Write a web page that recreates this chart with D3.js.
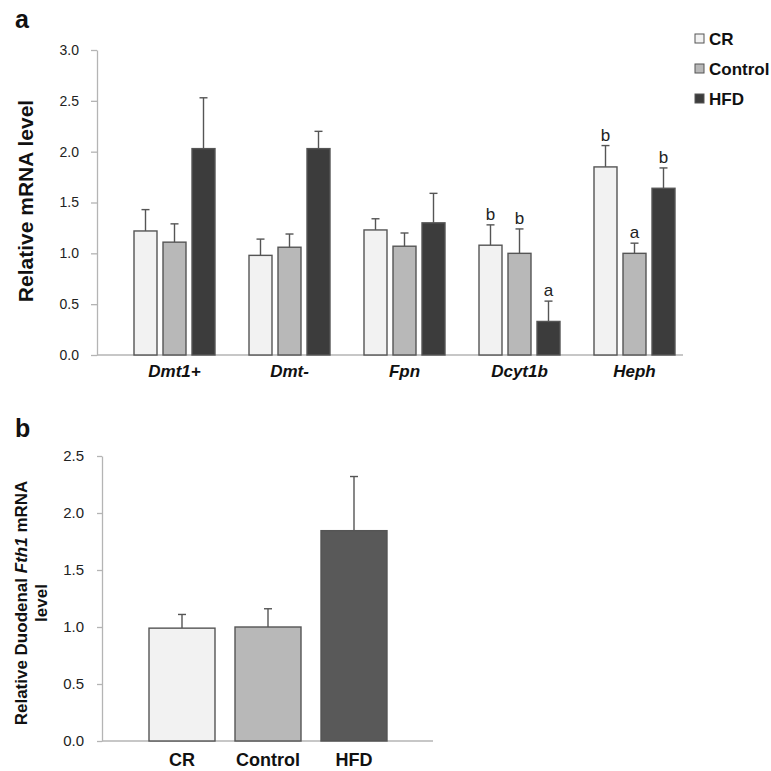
<!DOCTYPE html>
<html>

<head>
    <title>mRNA levels</title>
</head>
<style>
    body { margin: 0; background: #fff; }
    text { font-family: "Liberation Sans", Arial, sans-serif; }
</style>

<body>
    <script src="https://d3js.org/d3.v7.min.js"></script>
    <svg width="771" height="771" id="mainsvg"></svg>
    <script>
        // panel a data
        const genes = ['Dmt1+', 'Dmt-', 'Fpn', 'Dcyt1b', 'Heph'];
        const groups = ['CR', 'Control', 'HFD'];
        const crMean = [1.22, 0.98, 1.23, 1.08, 1.85];
        const crErr = [0.21, 0.16, 0.11, 0.20, 0.21];
        const ctrlMean = [1.11, 1.06, 1.07, 1.00, 1.00];
        const ctrlErr = [0.18, 0.13, 0.13, 0.24, 0.10];
        const hfdMean = [2.03, 2.03, 1.30, 0.33, 1.64];
        const hfdErr = [0.50, 0.17, 0.29, 0.20, 0.20];
        const crLetters = ['', '', '', 'b', 'b'];
        const ctrlLetters = ['', '', '', 'b', 'a'];
        const hfdLetters = ['', '', '', 'a', 'b'];
        const yTicksA = [0, 0.5, 1.0, 1.5, 2.0, 2.5, 3.0];

        // panel b data
        const fthMean = [0.99, 1.00, 1.845];
        const fthErr = [0.12, 0.16, 0.475];
        const yTicksB = [0, 0.5, 1.0, 1.5, 2.0, 2.5];

        const colorsA = { 'CR': '#f2f2f2', 'Control': '#b8b8b8', 'HFD': '#3c3c3c' };
        const colorsB = { 'CR': '#f2f2f2', 'Control': '#b8b8b8', 'HFD': '#595959' };
        const strokeCol = '#555555';

        const svg = d3.select('#mainsvg');

        // ---------- panel a ----------
        const dataA = [];
        genes.forEach((g, i) => {
            dataA.push({ gene: g, group: 'CR', mean: crMean[i], err: crErr[i], letter: crLetters[i] });
            dataA.push({ gene: g, group: 'Control', mean: ctrlMean[i], err: ctrlErr[i], letter: ctrlLetters[i] });
            dataA.push({ gene: g, group: 'HFD', mean: hfdMean[i], err: hfdErr[i], letter: hfdLetters[i] });
        });

        const x0 = d3.scaleBand().domain(genes).range([117, 692]).paddingInner(0);
        const x1 = d3.scaleBand().domain(groups).range([0, 81]).paddingInner(0.207);
        const offA = (x0.bandwidth() - 81) / 2;
        const yA = d3.scaleLinear().domain([0, 3]).range([355, 50]);

        const gA = svg.append('g').attr('id', 'panelA');

        const yAxisA = d3.axisLeft(yA).tickValues(yTicksA).tickFormat(d3.format('.1f'))
            .tickSize(6).tickSizeOuter(0).tickPadding(12);
        gA.append('g').attr('transform', 'translate(97,0)').call(yAxisA)
            .call(g => g.selectAll('path, line').attr('stroke', '#b4b4b4').attr('stroke-width', 1.3))
            .call(g => g.selectAll('text').attr('font-family', '"Open Sans", sans-serif')
                .attr('font-size', '14px').attr('fill', '#222'));

        gA.append('line').attr('x1', 97).attr('x2', 683).attr('y1', yA(0)).attr('y2', yA(0))
            .attr('stroke', '#b4b4b4').attr('stroke-width', 1.3);

        const xAxisA = d3.axisBottom(x0).tickSize(0).tickPadding(10);
        gA.append('g').attr('transform', `translate(0,${yA(0)})`).call(xAxisA)
            .call(g => g.select('.domain').remove())
            .call(g => g.selectAll('text').attr('font-family', '"Liberation Sans", Arial, sans-serif')
                .attr('font-size', '17px').attr('font-weight', 'bold').attr('font-style', 'italic')
                .attr('fill', '#111'));

        const barX = d => x0(d.gene) + offA + x1(d.group);

        gA.selectAll('.errA').data(dataA).join('line')
            .attr('class', 'errA')
            .attr('x1', d => barX(d) + x1.bandwidth() / 2)
            .attr('x2', d => barX(d) + x1.bandwidth() / 2)
            .attr('y1', d => yA(d.mean))
            .attr('y2', d => yA(d.mean + d.err))
            .attr('stroke', strokeCol).attr('stroke-width', 1.4);
        gA.selectAll('.capA').data(dataA).join('line')
            .attr('class', 'capA')
            .attr('x1', d => barX(d) + x1.bandwidth() / 2 - 4)
            .attr('x2', d => barX(d) + x1.bandwidth() / 2 + 4)
            .attr('y1', d => yA(d.mean + d.err))
            .attr('y2', d => yA(d.mean + d.err))
            .attr('stroke', strokeCol).attr('stroke-width', 1.4);

        gA.selectAll('.barA').data(dataA).join('rect')
            .attr('class', 'barA')
            .attr('x', d => barX(d))
            .attr('y', d => yA(d.mean))
            .attr('width', x1.bandwidth())
            .attr('height', d => yA(0) - yA(d.mean))
            .attr('fill', d => colorsA[d.group])
            .attr('stroke', strokeCol).attr('stroke-width', 1.4);

        gA.selectAll('.letterA').data(dataA.filter(d => d.letter)).join('text')
            .attr('class', 'letterA')
            .attr('x', d => barX(d) + x1.bandwidth() / 2)
            .attr('y', d => yA(d.mean + d.err) - 5)
            .attr('text-anchor', 'middle')
            .attr('font-size', '17px')
            .attr('fill', '#222')
            .text(d => d.letter);

        gA.append('text')
            .attr('transform', 'translate(33,201) rotate(-90)')
            .attr('text-anchor', 'middle')
            .attr('font-size', '21px').attr('font-weight', 'bold').attr('fill', '#111')
            .text('Relative mRNA level');

        gA.append('text').attr('x', 15).attr('y', 28)
            .attr('font-size', '25px').attr('font-weight', 'bold').attr('fill', '#111')
            .text('a');

        // legend
        const legend = gA.append('g').attr('transform', 'translate(695,33)');
        groups.forEach((g, i) => {
            legend.append('rect').attr('x', 0).attr('y', i * 30 + 1).attr('width', 9).attr('height', 9)
                .attr('fill', colorsA[g]).attr('stroke', strokeCol).attr('stroke-width', 1);
            legend.append('text').attr('x', 14).attr('y', i * 30 + 11.5)
                .attr('font-size', '17px').attr('font-weight', 'bold').attr('fill', '#111')
                .text(g);
        });

        // ---------- panel b ----------
        const dataB = groups.map((g, i) => ({ group: g, mean: fthMean[i], err: fthErr[i] }));
        const xB = d3.scaleBand().domain(groups).range([139, 397]).paddingInner(0.2326).paddingOuter(0.1163);
        const yB = d3.scaleLinear().domain([0, 2.5]).range([741, 456]);

        const gB = svg.append('g').attr('id', 'panelB');

        const yAxisB = d3.axisLeft(yB).tickValues(yTicksB).tickFormat(d3.format('.1f'))
            .tickSize(5).tickSizeOuter(0).tickPadding(13);
        gB.append('g').attr('transform', 'translate(102,0)').call(yAxisB)
            .call(g => g.selectAll('path, line').attr('stroke', '#b4b4b4').attr('stroke-width', 1.3))
            .call(g => g.selectAll('text').attr('font-family', '"Liberation Sans", Arial, sans-serif')
                .attr('font-size', '15px').attr('fill', '#222'));

        gB.append('line').attr('x1', 102).attr('x2', 433).attr('y1', yB(0)).attr('y2', yB(0))
            .attr('stroke', '#b4b4b4').attr('stroke-width', 1.3);

        const xAxisB = d3.axisBottom(xB).tickSize(0).tickPadding(12);
        gB.append('g').attr('transform', `translate(0,${yB(0)})`).call(xAxisB)
            .call(g => g.select('.domain').remove())
            .call(g => g.selectAll('text').attr('font-family', '"Liberation Sans", Arial, sans-serif')
                .attr('font-size', '18px').attr('font-weight', 'bold').attr('fill', '#111'));

        gB.selectAll('.errB').data(dataB).join('line')
            .attr('class', 'errB')
            .attr('x1', d => xB(d.group) + xB.bandwidth() / 2)
            .attr('x2', d => xB(d.group) + xB.bandwidth() / 2)
            .attr('y1', d => yB(d.mean))
            .attr('y2', d => yB(d.mean + d.err))
            .attr('stroke', strokeCol).attr('stroke-width', 1.4);
        gB.selectAll('.capB').data(dataB).join('line')
            .attr('class', 'capB')
            .attr('x1', d => xB(d.group) + xB.bandwidth() / 2 - 4)
            .attr('x2', d => xB(d.group) + xB.bandwidth() / 2 + 4)
            .attr('y1', d => yB(d.mean + d.err))
            .attr('y2', d => yB(d.mean + d.err))
            .attr('stroke', strokeCol).attr('stroke-width', 1.4);

        gB.selectAll('.barB').data(dataB).join('rect')
            .attr('class', 'barB')
            .attr('x', d => xB(d.group))
            .attr('y', d => yB(d.mean))
            .attr('width', xB.bandwidth())
            .attr('height', d => yB(0) - yB(d.mean))
            .attr('fill', d => colorsB[d.group])
            .attr('stroke', strokeCol).attr('stroke-width', 1.4);

        const titleB = gB.append('text')
            .attr('transform', 'translate(27,603) rotate(-90)')
            .attr('text-anchor', 'middle')
            .attr('font-size', '17px').attr('font-weight', 'bold').attr('fill', '#111');
        titleB.append('tspan').attr('x', 0).attr('dy', 0).text('Relative Duodenal ');
        titleB.append('tspan').attr('font-style', 'italic').text('Fth1');
        titleB.append('tspan').text(' mRNA');
        titleB.append('tspan').attr('x', 0).attr('dy', 20).text('level');

        gB.append('text').attr('x', 15).attr('y', 437)
            .attr('font-size', '25px').attr('font-weight', 'bold').attr('fill', '#111')
            .text('b');
    </script>
</body>

</html>
